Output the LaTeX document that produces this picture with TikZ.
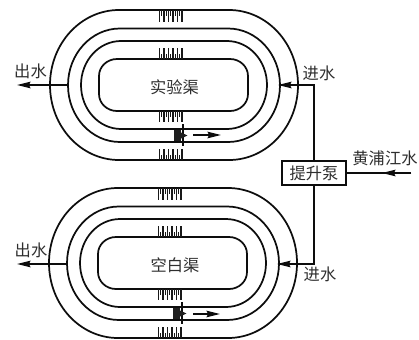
\documentclass[tikz,border=0pt]{standalone}
\usepackage{fontspec}
\newfontfamily\cjk{Noto Sans CJK SC}
\usetikzlibrary{arrows.meta}
\tikzset{
  track/.style={line width=1.3pt,black!95},
  pipe/.style={line width=1.35pt,black!95},
  flow/.style={pipe,-{Stealth[length=10bp,width=4.8bp,inset=1bp]}},
  lab/.style={font=\cjk\fontsize{12.2bp}{13bp}\selectfont,inner sep=0pt,text=black!82},
  pump/.style={draw=black!95,line width=1.4pt,fill=white,minimum width=48.5bp,minimum height=17.5bp,inner sep=0pt,font=\cjk\fontsize{12.2bp}{13bp}\selectfont,text=black!82}
}
\newcommand{\ringpath}[6]{% xl xr yt yb rx ry
  \draw[track] ({#1+#5},#3) -- ({#2-#5},#3)
    arc[start angle=90,end angle=0,x radius=#5,y radius=#6] -- (#2,{#4+#6})
    arc[start angle=0,end angle=-90,x radius=#5,y radius=#6] -- ({#1+#5},#4)
    arc[start angle=270,end angle=180,x radius=#5,y radius=#6] -- (#1,{#3-#6})
    arc[start angle=180,end angle=90,x radius=#5,y radius=#6] -- cycle;}
\newcommand{\teeth}[3]{% x y0 y1
  \foreach \k in {0,...,5}{\draw[line width=1.05pt,black!90] ({#1+\k*4.5},#2) -- ({#1+\k*4.5},#3);}
  \foreach \k in {0,...,4}{\draw[line width=0.9pt,black!90] ({#1+2.25+\k*4.5},#2) -- ({#1+2.25+\k*4.5},{#2+(#3-(#2))*0.5});}}
\newcommand{\channel}[2]{%
  \begin{scope}[shift={(#1,#2)}]
  \ringpath{50}{298}{-10}{-160}{69}{75}
  \ringpath{68}{280}{-28.5}{-142}{52}{56.75}
  \ringpath{81}{267}{-41}{-129}{40}{44}
  \ringpath{99}{248}{-59}{-111}{18}{17}
  \teeth{159.5}{-10}{-22}
  \teeth{159.5}{-59}{-48}
  \teeth{159.5}{-111}{-122}
  \teeth{159.5}{-160}{-149}
  \fill[black!88] (173.5,-130) rectangle (181,-141);
  \draw[line width=1.7pt,black!95] (183,-124) -- (183,-146);
  \fill[black!88] (181,-132.5) -- (187.5,-135.5) -- (181,-138.5) -- cycle;
  \end{scope}}
\begin{document}
\begin{tikzpicture}[x=0.75bp,y=0.75bp]
\useasboundingbox (0,0) rectangle (419,-340);
\fill[white] (0,0) rectangle (419,-340);
\channel{0}{0}
\channel{-1}{-178}
\node[lab] (exp) at (174.5,-87) {实验渠};
\node[lab] (ctl) at (175,-265) {空白渠};
% outlet
\coordinate (o1a) at (68,-85);
\coordinate (o1b) at (17,-85);
\coordinate (o2a) at (67,-264);
\coordinate (o2b) at (17,-264);
\draw[flow] (o1a) -- (o1b);
\draw[flow] (o2a) -- (o2b);
\node[lab] (ot1) at (30.5,-71) {出水};
\node[lab] (ot2) at (31,-250.5) {出水};
% pump
\node[pump] (pmp) at (314,-173) {提升泵};
\coordinate (in1b) at (278,-85);
\coordinate (in2b) at (277,-264);
\draw[flow] (pmp.north) |- (in1b);
\draw[flow] (pmp.south) |- (in2b);
\node[lab] (in1) at (319,-73) {进水};
\node[lab] (in2) at (320,-274) {进水};
\node[lab] (src) at (385,-158) {黄浦江水};
\coordinate (srcA) at (411,-173);
\coordinate (srcM) at (382,-173);
\draw[pipe] (srcA) -- (pmp.east);
\draw[flow] (srcA) -- (srcM);
% small flow arrows
\coordinate (f1a) at (193,-135);
\coordinate (f1b) at (221,-135);
\coordinate (f2a) at (193,-314);
\coordinate (f2b) at (220,-314);
\draw[flow] (f1a) -- (f1b);
\draw[flow] (f2a) -- (f2b);
\end{tikzpicture}
\end{document}
